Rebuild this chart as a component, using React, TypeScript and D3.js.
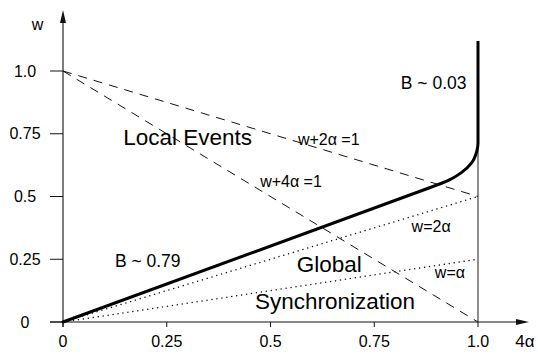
import React from 'react';
import * as d3 from 'd3';

// axis ticks (value = 4α on x, w on y)
const xTicks = [0, 0.25, 0.5, 0.75, 1.0];
const xTickLabels = ['0', '0.25', '0.5', '0.75', '1.0'];
const yTicks = [0, 0.25, 0.5, 0.75, 1.0];
const yTickLabels = ['0', '0.25', '0.5', '0.75', '1.0'];

// thick boundary curve
const boundaryLinearX = [0, 0.88];
const boundaryLinearW = [0, 0.533];
const boundaryCurveX = [0.88, 0.93, 0.96, 0.985, 0.997, 1.0, 1.0];
const boundaryCurveW = [0.533, 0.565, 0.595, 0.635, 0.68, 0.713, 1.12];

// reference lines: endpoints at x = 0 and x = 1
const refNames = ['w+2α=1', 'w+4α=1', 'w=2α', 'w=α'];
const refW0 = [1, 1, 0, 0];
const refW1 = [0.5, 0, 0.5, 0.25];
const refDotted = [false, false, true, true];

// annotations, in data coordinates (x, w)
const notes = [
  { text: 'Local Events', x: 0.145, w: 0.705, size: 22.5 },
  { text: 'w+2α =1', x: 0.566, w: 0.705, size: 16 },
  { text: 'w+4α =1', x: 0.475, w: 0.537, size: 16 },
  { text: 'B ~ 0.79', x: 0.125, w: 0.22, size: 17.5 },
  { text: 'B ~ 0.03', x: 0.814, w: 0.928, size: 17.5 },
  { text: 'Global', x: 0.563, w: 0.2, size: 22.5 },
  { text: 'Synchronization', x: 0.4627, w: 0.052, size: 22.5 },
  { text: 'w=2α', x: 0.84, w: 0.36, size: 16 },
  { text: 'w=α', x: 0.896, w: 0.175, size: 16 },
];

const W = 538, H = 356;
const FONT = '"Liberation Sans", Arial, Helvetica, sans-serif';

export default function App() {
  const x = d3.scaleLinear().domain([0, 1]).range([63, 478]);
  const y = d3.scaleLinear().domain([0, 1]).range([322, 71]);

  const straight = d3.line<[number, number]>().x(d => x(d[0])).y(d => y(d[1]));
  const curved = d3.line<[number, number]>()
    .x(d => x(d[0])).y(d => y(d[1]))
    .curve(d3.curveMonotoneY);

  const linPts = boundaryLinearX.map((v, i) => [v, boundaryLinearW[i]] as [number, number]);
  const curvePts = boundaryCurveX.map((v, i) => [v, boundaryCurveW[i]] as [number, number]);

  const x0 = x(0), y0 = y(0);
  const axisRight = 529, axisTop = 10;

  return (
    <svg width={W} height={H} style={{ position: 'absolute', left: 0, top: 0, background: '#fff' }}
      fontFamily={FONT}>
      {/* axes */}
      <line x1={50} x2={axisRight - 6} y1={y0} y2={y0} stroke="#111" strokeWidth={1.1} />
      <path d={`M${axisRight},${y0} L${axisRight - 13},${y0 - 3} L${axisRight - 13},${y0 + 3} Z`} fill="#111" />
      <line x1={x0} x2={x0} y1={y0 + 5} y2={axisTop + 6} stroke="#111" strokeWidth={1.1} />
      <path d={`M${x0},${axisTop} L${x0 - 3},${axisTop + 13} L${x0 + 3},${axisTop + 13} Z`} fill="#111" />

      {xTicks.map((t, i) => (
        <g key={'xt' + i}>
          <line x1={x(t)} x2={x(t)} y1={y0} y2={y0 + 5} stroke="#111" strokeWidth={1} />
          <text x={x(t)} y={347} textAnchor="middle" fontSize={16} fill="#000">{xTickLabels[i]}</text>
        </g>
      ))}
      {yTicks.map((t, i) => (
        <g key={'yt' + i}>
          <line x1={50} x2={x0} y1={y(t)} y2={y(t)} stroke="#111" strokeWidth={1} />
          <text x={25} y={y(t) + 5.5} textAnchor="middle" fontSize={16} fill="#000">{yTickLabels[i]}</text>
        </g>
      ))}
      <text x={37.5} y={30} textAnchor="middle" fontSize={16} fill="#000">w</text>
      <text x={525} y={347} textAnchor="middle" fontSize={17} fill="#000">4α</text>

      {/* x = 1 boundary */}
      <line x1={x(1)} x2={x(1)} y1={y0} y2={y(0.713)} stroke="#444" strokeWidth={1.2} />

      {/* reference lines */}
      {refNames.map((n, i) => (
        <line key={n} x1={x(0)} y1={y(refW0[i])} x2={x(1)} y2={y(refW1[i])}
          stroke="#111" strokeWidth={refDotted[i] ? 1.3 : 1}
          strokeDasharray={refDotted[i] ? '1.3,3.7' : '9,7'} />
      ))}

      {/* thick boundary */}
      <path d={straight(linPts) || ''} fill="none" stroke="#000" strokeWidth={3} strokeLinecap="round" />
      <path d={curved(curvePts) || ''} fill="none" stroke="#000" strokeWidth={3} strokeLinecap="butt" />

      {notes.map(n => (
        <text key={n.text} x={x(n.x)} y={y(n.w)} fontSize={n.size} fill="#000">{n.text}</text>
      ))}
    </svg>
  );
}
